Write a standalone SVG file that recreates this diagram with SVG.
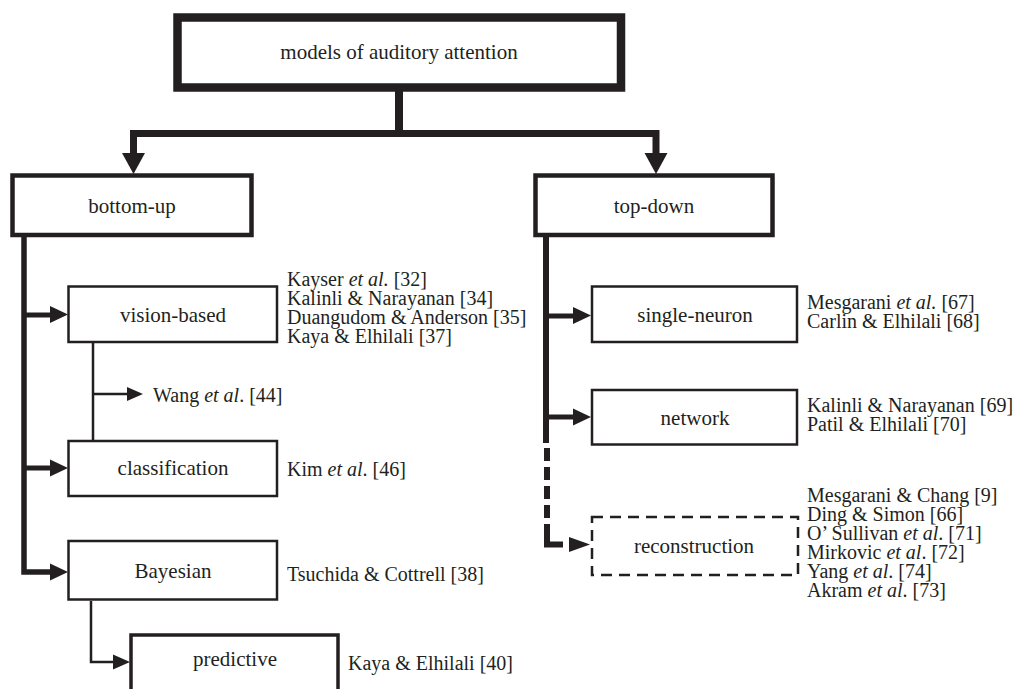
<svg xmlns="http://www.w3.org/2000/svg" width="1027" height="689" viewBox="0 0 1027 689">
<style>
  .box { fill: #ffffff; stroke: #231f20; }
  .lbl { font-family: "Liberation Serif", "DejaVu Serif", serif; font-size: 21px; fill: #231f20; text-anchor: middle; }
  .cite { font-family: "Liberation Serif", "DejaVu Serif", serif; font-size: 20px; fill: #231f20; }
  .it { font-style: italic; }
  .thick { fill: none; stroke: #231f20; stroke-linejoin: miter; stroke-linecap: butt; }
  .head { fill: #231f20; stroke: none; }
</style>
<rect x="0" y="0" width="1027" height="689" fill="#ffffff"/>

<g id="connectors">
  <path class="thick" d="M399,91 V133.5" stroke-width="8"/>
  <path class="thick" d="M133.5,155 V133.5 H656 V155" stroke-width="7"/>
  <polygon class="head" points="122,153 145,153 133.5,174"/>
  <polygon class="head" points="644.5,153 667.5,153 656,174"/>

  <path class="thick" d="M24,237 V572 H52" stroke-width="5.5"/>
  <path class="thick" d="M24,315 H52" stroke-width="5"/>
  <polygon class="head" points="50,306 50,323 68,314.5"/>
  <path class="thick" d="M24,468 H52" stroke-width="5"/>
  <polygon class="head" points="50,459.5 50,476.5 68,468"/>
  <polygon class="head" points="50,563.5 50,580.5 68,572"/>

  <path class="thick" d="M93,343 V440" stroke-width="2.5"/>
  <path class="thick" d="M93,394 H129" stroke-width="2.5"/>
  <polygon class="head" points="127,387 127,401 143,394"/>

  <path class="thick" d="M91,601 V662 H115" stroke-width="2.5"/>
  <polygon class="head" points="113,654.5 113,669.5 130,662"/>

  <path class="thick" d="M546,237 V443" stroke-width="6"/>
  <path class="thick" d="M546,316 H575" stroke-width="5"/>
  <polygon class="head" points="573,307 573,324 591,315.5"/>
  <path class="thick" d="M546,417 H575" stroke-width="5"/>
  <polygon class="head" points="573,408.5 573,425.5 591,417"/>
  <path class="thick" d="M547,448 V524" stroke-width="6" stroke-dasharray="13 6"/>
  <path class="thick" d="M547,524 V544.5 H563" stroke-width="6"/>
  <polygon class="head" points="569,537 569,552 590,544.5"/>
</g>

<g id="node-root">
  <rect class="box" x="177.5" y="17.5" width="443.5" height="70" stroke-width="8.5"/>
  <text class="lbl" x="399" y="59">models of auditory attention</text>
</g>

<g id="node-bottom-up">
  <rect class="box" x="12.5" y="175.5" width="239" height="59.5" stroke-width="4.5"/>
  <text class="lbl" x="132" y="213">bottom-up</text>
</g>

<g id="node-top-down">
  <rect class="box" x="535.5" y="175.5" width="237" height="59.5" stroke-width="4.5"/>
  <text class="lbl" x="654" y="213">top-down</text>
</g>

<g id="node-vision-based">
  <rect class="box" x="68.5" y="286.5" width="208.5" height="55.5" stroke-width="2.5"/>
  <text class="lbl" x="173" y="322">vision-based</text>
  <text class="cite" x="287" y="286">Kayser <tspan class="it">et al.</tspan> [32]</text>
  <text class="cite" x="287" y="305">Kalinli &amp; Narayanan [34]</text>
  <text class="cite" x="287" y="324">Duangudom &amp; Anderson [35]</text>
  <text class="cite" x="287" y="343">Kaya &amp; Elhilali [37]</text>
</g>

<g id="node-wang">
  <text class="cite" x="153" y="402">Wang <tspan class="it">et al</tspan>. [44]</text>
</g>

<g id="node-classification">
  <rect class="box" x="68.5" y="441" width="208.5" height="55" stroke-width="2.5"/>
  <text class="lbl" x="173" y="475">classification</text>
  <text class="cite" x="287" y="476">Kim <tspan class="it">et al</tspan>. [46]</text>
</g>

<g id="node-bayesian">
  <rect class="box" x="68.5" y="541" width="208.5" height="58.5" stroke-width="2.5"/>
  <text class="lbl" x="173" y="578">Bayesian</text>
  <text class="cite" x="287" y="581">Tsuchida &amp; Cottrell [38]</text>
</g>

<g id="node-predictive">
  <rect class="box" x="131" y="635" width="207" height="70" stroke-width="3.5"/>
  <text class="lbl" x="235" y="666">predictive</text>
  <text class="cite" x="348" y="670">Kaya &amp; Elhilali [40]</text>
</g>

<g id="node-single-neuron">
  <rect class="box" x="592" y="286.5" width="205" height="55.5" stroke-width="2.5"/>
  <text class="lbl" x="695" y="322">single-neuron</text>
  <text class="cite" x="807" y="309">Mesgarani <tspan class="it">et al.</tspan> [67]</text>
  <text class="cite" x="807" y="328">Carlin &amp; Elhilali [68]</text>
</g>

<g id="node-network">
  <rect class="box" x="592" y="390" width="205" height="54.5" stroke-width="2.5"/>
  <text class="lbl" x="695" y="425">network</text>
  <text class="cite" x="807" y="412">Kalinli &amp; Narayanan [69]</text>
  <text class="cite" x="807" y="431">Patil &amp; Elhilali [70]</text>
</g>

<g id="node-reconstruction">
  <rect class="box" x="592" y="517" width="206" height="58" stroke-width="2.5" stroke-dasharray="11 7"/>
  <text class="lbl" x="694" y="553">reconstruction</text>
  <text class="cite" x="807" y="502">Mesgarani &amp; Chang [9]</text>
  <text class="cite" x="807" y="521">Ding &amp; Simon [66]</text>
  <text class="cite" x="807" y="540">O’ Sullivan <tspan class="it">et al</tspan>. [71]</text>
  <text class="cite" x="807" y="559">Mirkovic <tspan class="it">et al</tspan>. [72]</text>
  <text class="cite" x="807" y="578">Yang <tspan class="it">et al</tspan>. [74]</text>
  <text class="cite" x="807" y="597">Akram <tspan class="it">et al</tspan>. [73]</text>
</g>
</svg>
